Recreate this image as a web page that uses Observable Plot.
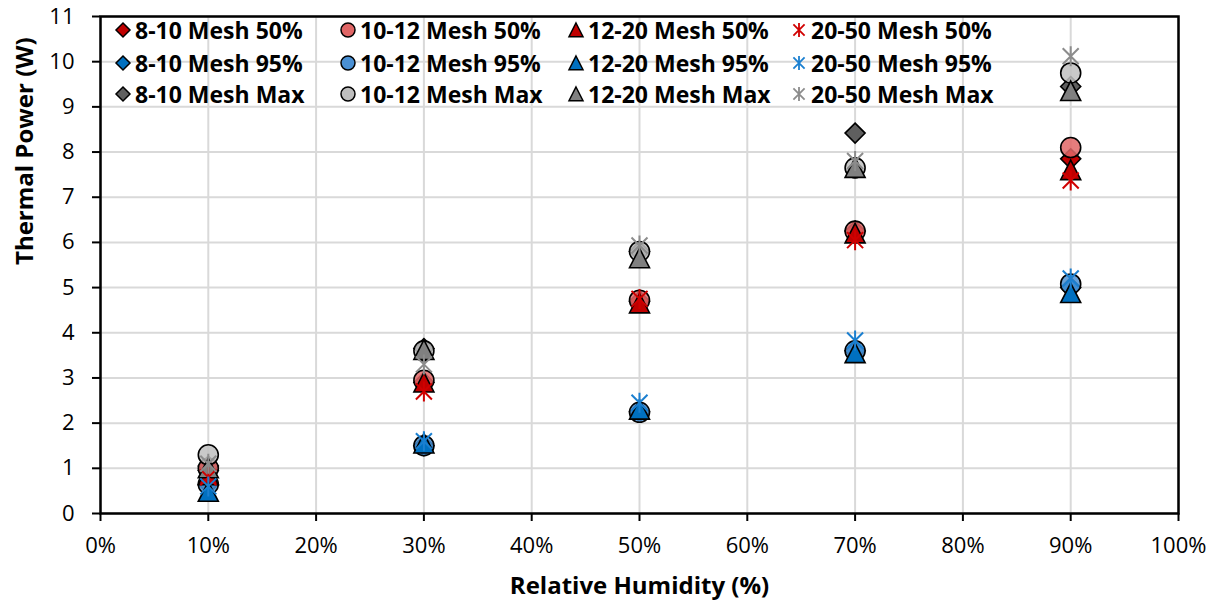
<!DOCTYPE html>
<html><head><meta charset="utf-8">
<script src="https://cdn.jsdelivr.net/npm/d3@7"></script>
<script src="https://cdn.jsdelivr.net/npm/@observablehq/plot@0.6"></script>
<style>
body{margin:0;background:#fff;}
#wrap{position:relative;width:1209px;height:603px;overflow:hidden}
#legend{position:absolute;left:0;top:0;width:1209px;height:120px;pointer-events:none}
.li{position:absolute;display:flex;align-items:center;font-family:"Open Sans",sans-serif;font-weight:700;font-size:23px;color:#000;white-space:nowrap;line-height:1}
.li svg{margin-right:3px}
</style></head><body><div id="wrap"><div id="chart"></div><div id="legend"></div></div>
<script>
// ---- data ----
const humidity = [0.1, 0.3, 0.5, 0.7, 0.9];
const xTicks = [0, 0.1, 0.2, 0.3, 0.4, 0.5, 0.6, 0.7, 0.8, 0.9, 1.0];
const yTicks = [0, 1, 2, 3, 4, 5, 6, 7, 8, 9, 10, 11];
const meshes = ["8-10", "10-12", "12-20", "20-50"];
const levels = ["50%", "95%", "Max"];

const mesh8_10_50  = [0.95, 2.90, 4.70, 6.25, 7.85];
const mesh8_10_95  = [0.65, 1.50, 2.25, 3.60, 5.00];
const mesh8_10_max = [1.05, 3.65, 5.80, 8.42, 9.45];
const mesh10_12_50  = [1.00, 2.95, 4.72, 6.25, 8.10];
const mesh10_12_95  = [0.65, 1.50, 2.24, 3.60, 5.08];
const mesh10_12_max = [1.30, 3.60, 5.80, 7.65, 9.75];
const mesh12_20_50  = [0.85, 2.90, 4.65, 6.20, 7.60];
const mesh12_20_95  = [0.48, 1.55, 2.30, 3.55, 4.88];
const mesh12_20_max = [1.00, 3.62, 5.65, 7.65, 9.35];
const mesh20_50_50  = [0.80, 2.70, 4.75, 6.05, 7.37];
const mesh20_50_95  = [0.60, 1.60, 2.45, 3.83, 5.20];
const mesh20_50_max = [1.10, 3.30, 5.93, 7.80, 10.12];

const seriesValues = [
  [mesh8_10_50, mesh8_10_95, mesh8_10_max],
  [mesh10_12_50, mesh10_12_95, mesh10_12_max],
  [mesh12_20_50, mesh12_20_95, mesh12_20_max],
  [mesh20_50_50, mesh20_50_95, mesh20_50_max]
];

// ---- styles ----
const fills = [
  ["#C00000", "#0070C0", "#5F5F5F"],
  ["#E06666", "#4A90D4", "#BFBFBF"],
  ["#C00000", "#0070C0", "#808080"],
  ["#D00000", "#1A7FD0", "#8C8C8C"]
];
const rad = s => Math.sqrt(s / Math.PI);
const symDiamond = {draw(c, s){const r = rad(s); c.moveTo(0,-r); c.lineTo(r,0); c.lineTo(0,r); c.lineTo(-r,0); c.closePath();}};
const symCircle = {draw(c, s){const r = rad(s); c.moveTo(r,0); c.arc(0,0,r,0,2*Math.PI); c.closePath();}};
const symTriangle = {draw(c, s){const r = rad(s); c.moveTo(0,-r); c.lineTo(r,r*0.95); c.lineTo(-r,r*0.95); c.closePath();}};
const symStar = {draw(c, s){const r = rad(s); const a = r*0.8; c.moveTo(0,-r); c.lineTo(0,r); c.moveTo(-a,-a); c.lineTo(a,a); c.moveTo(a,-a); c.lineTo(-a,a);}};
const symbols = [symDiamond, symCircle, symTriangle, symStar];

// ---- table ----
const rows = [];
meshes.forEach((m, i) => levels.forEach((l, j) => humidity.forEach((h, k) => {
  rows.push({mesh: m, level: l, name: `${m} Mesh ${l}`, mi: i, li: j, rh: h, power: seriesValues[i][j][k]});
})));

const dotMarks = [];
meshes.forEach((m, i) => levels.forEach((l, j) => {
  const data = rows.filter(d => d.mi === i && d.li === j);
  if (i === 3) {
    dotMarks.push(Plot.dot(data, {x: "rh", y: "power", symbol: symStar, r: 10, fill: "none", stroke: fills[i][j], strokeWidth: 2}));
  } else {
    dotMarks.push(Plot.dot(data, {x: "rh", y: "power", symbol: symbols[i], r: 10, fill: fills[i][j], fillOpacity: i === 1 ? 0.85 : 1, stroke: "#000", strokeWidth: 1.6}));
  }
}));

const chart = Plot.plot({
  width: 1209, height: 603,
  marginLeft: 100, marginRight: 31, marginTop: 16, marginBottom: 90,
  style: {fontFamily: "'Open Sans', sans-serif", fontSize: "22px", color: "#000", background: "#fff"},
  x: {domain: [0, 1]},
  y: {domain: [0, 11]},
  marks: [
    Plot.gridX(xTicks, {stroke: "#D9D9D9", strokeOpacity: 1, strokeWidth: 2}),
    Plot.gridY(yTicks, {stroke: "#D9D9D9", strokeOpacity: 1, strokeWidth: 2}),
    Plot.frame({stroke: "#000", strokeWidth: 2.5}),
    Plot.axisX({ticks: xTicks, tickFormat: d3.format(".0%"), tickSize: 8, tickPadding: 16, strokeWidth: 2, strokeOpacity: 1, label: null, fontSize: 22}),
    Plot.axisY({ticks: yTicks, tickSize: 8, tickPadding: 18, strokeWidth: 2, strokeOpacity: 1, label: null, fontSize: 22}),
    Plot.text(["Relative Humidity (%)"], {frameAnchor: "bottom", dy: 80, fontWeight: "bold", fontSize: 24, fill: "#000"}),
    Plot.text(["Thermal Power (W)"], {frameAnchor: "left", dx: -75, rotate: -90, fontWeight: "bold", fontSize: 24, fill: "#000"}),
    ...dotMarks
  ]
});
document.getElementById("chart").appendChild(chart);

// ---- legend (inside plot area, 4 columns x 3 rows) ----
const legend = document.getElementById("legend");
const colX = [114, 339, 567, 790];
const rowY = [30, 63, 94];
meshes.forEach((m, i) => levels.forEach((l, j) => {
  const div = document.createElement("div");
  div.className = "li";
  div.style.left = colX[i] + "px";
  div.style.top = (rowY[j] - 13) + "px";
  div.style.height = "26px";
  const svg = d3.create("svg").attr("width", 18).attr("height", 18).attr("viewBox", "-9 -9 18 18");
  const p = d3.path();
  symbols[i].draw(p, Math.PI * 7 * 7);
  const path = svg.append("path").attr("d", p.toString());
  if (i === 3) path.attr("fill", "none").attr("stroke", fills[i][j]).attr("stroke-width", 1.8);
  else path.attr("fill", fills[i][j]).attr("stroke", "#000").attr("stroke-width", 1.5);
  div.appendChild(svg.node());
  const span = document.createElement("span");
  span.textContent = `${m} Mesh ${l}`;
  div.appendChild(span);
  legend.appendChild(div);
}));
</script>
</body></html>
